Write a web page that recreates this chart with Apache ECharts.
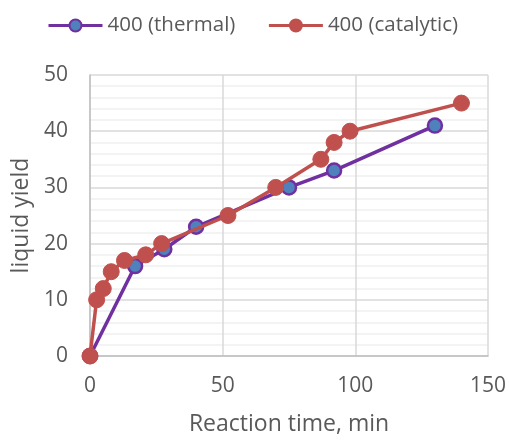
<!DOCTYPE html>
<html><head><meta charset="utf-8">
<script src="https://cdn.jsdelivr.net/npm/echarts@6/dist/echarts.min.js"></script>
<style>html,body{margin:0;padding:0;background:#fff}#c{width:509px;height:441px}</style>
</head><body><div id="c"></div>
<script>
const seriesNames = ['400 (thermal)', '400 (catalytic)'];
const thermalX = [0, 17, 28, 40, 75, 92, 130];
const thermalY = [0, 16, 19, 23, 30, 33, 41];
const catalyticX = [0, 2.5, 5, 8, 13, 21, 27, 52, 70, 87, 92, 98, 140];
const catalyticY = [0, 10, 12, 15, 17, 18, 20, 25, 30, 35, 38, 40, 45];
const xTicks = [0, 50, 100, 150];
const yTicks = [0, 10, 20, 30, 40, 50];

const pair = (xs, ys) => xs.map((x, i) => [x, ys[i]]);
const font = '"Open Sans", Lato, sans-serif';
const chart = echarts.init(document.getElementById('c'));
chart.setOption({
  animation: false,
  textStyle: { fontFamily: font },
  legend: {
    top: 15, left: 47, padding: 0, itemGap: 32, itemWidth: 54, itemHeight: 15,
    textStyle: { fontSize: 20.5, color: '#595959', fontFamily: font },
    lineStyle: { width: 3 },
    data: seriesNames
  },
  grid: { left: 90, right: 21, top: 75, bottom: 83 },
  xAxis: {
    type: 'value', min: xTicks[0], max: xTicks[xTicks.length - 1], interval: 50,
    name: 'Reaction time, min', nameLocation: 'middle', nameGap: 57,
    nameTextStyle: { fontSize: 23, color: '#595959' },
    axisLine: { show: true, lineStyle: { color: '#bfbfbf', width: 1.5 } },
    axisTick: { show: false },
    axisLabel: { fontSize: 21, color: '#595959', margin: 20 },
    splitLine: { show: true, lineStyle: { color: '#d9d9d9', width: 1.5 } }
  },
  yAxis: {
    type: 'value', min: yTicks[0], max: yTicks[yTicks.length - 1], interval: 10,
    name: 'liquid yield', nameLocation: 'middle', nameGap: 54,
    nameTextStyle: { fontSize: 23, color: '#595959' },
    axisLine: { show: true, lineStyle: { color: '#bfbfbf', width: 1.5 } },
    axisTick: { show: false },
    axisLabel: { fontSize: 21, color: '#595959', margin: 22 },
    splitLine: { show: true, lineStyle: { color: '#d9d9d9', width: 1.5 } },
    minorTick: { show: false, splitNumber: 5 },
    minorSplitLine: { show: true, lineStyle: { color: '#f0f0f0', width: 1.5 } }
  },
  series: [
    {
      name: seriesNames[0], type: 'line', data: pair(thermalX, thermalY),
      symbol: 'circle', symbolSize: 14, z: 2,
      lineStyle: { color: '#7030a0', width: 3.5 },
      itemStyle: { color: '#4f81bd', borderColor: '#7030a0', borderWidth: 2.5 }
    },
    {
      name: seriesNames[1], type: 'line', data: pair(catalyticX, catalyticY),
      symbol: 'circle', symbolSize: 16, z: 3,
      lineStyle: { color: '#c0504d', width: 3.5 },
      itemStyle: { color: '#c0504d', borderColor: '#c0504d', borderWidth: 1 }
    }
  ]
});
</script></body></html>
